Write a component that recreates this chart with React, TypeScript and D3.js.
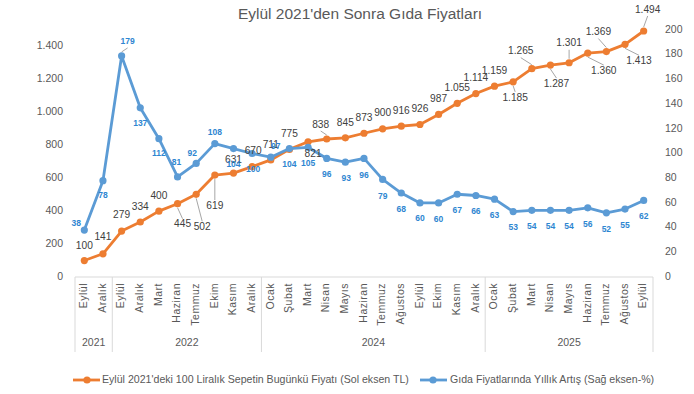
import * as d3 from "d3";

// x categories (month, grouped by year)
const months = [
  "Eylül", "Aralık",
  "Eylül", "Aralık", "Mart", "Haziran", "Temmuz", "Ekim", "Kasım", "Aralık",
  "Ocak", "Şubat", "Mart", "Nisan", "Mayıs", "Haziran", "Temmuz", "Ağustos", "Eylül", "Ekim", "Kasım", "Aralık",
  "Ocak", "Şubat", "Mart", "Nisan", "Mayıs", "Haziran", "Temmuz", "Ağustos", "Eylül",
];
const yearLabels = ["2021", "2022", "2024", "2025"];
const yearSpans = [2, 8, 12, 9];

// series
const basketPrice = [
  100, 141, 279, 334, 400, 445, 502, 619, 631, 670, 711, 775, 821, 838, 845, 873,
  900, 916, 926, 987, 1055, 1114, 1159, 1185, 1265, 1287, 1301, 1360, 1369, 1413, 1494,
];
const yearlyIncrease = [
  38, 78, 179, 137, 112, 81, 92, 108, 104, 100, 97, 104, 105, 96, 93, 96,
  79, 68, 60, 60, 67, 66, 63, 53, 54, 54, 54, 56, 52, 55, 62,
];

const leftTicks = [0, 200, 400, 600, 800, 1000, 1200, 1400];
const rightTicks = [0, 20, 40, 60, 80, 100, 120, 140, 160, 180, 200];

// data label placement (offset from the point, like the hand-moved labels in the source)
const orangeDx = [0, 0, 0, 0, 0, 5, 6, 0, 0, 1, 0, 0, 5, -6, 0, 0, 0, 0, 0, 0, 0, 0, 0, 2, -11, 6, 0, 16, -8, 14, 4];
const orangeDy = [-14, -16, -16, -15, -15, 21, 33, 31, -13, -15, -15, -15, 13, -14, -15, -15, -15, -15, -15, -15, -15, -15, -15, 16, -17, 19, -19, 18, -19, 17, -21];
const orangeLeaders = [5, 6, 7, 13, 23, 24, 25, 26, 27, 28, 29, 30];
const blueDx = [-8, 0, 6, 0, 0, -1, -4, 0, 0, 1, 5, 0, 0, 0, 1, 0, 0, 0, 0, 0, 0, 0, 0, 0, 0, 0, 0, 0, 0, 0, 0];
const blueDy = [-6, 15, -14, 16, 15, -14, -10, -11, 16, 16, -10, 16, 16, 16.5, 17, 17, 17.5, 17, 16, 16.5, 16.5, 16.5, 16.5, 16.5, 16.5, 16.5, 16.5, 16.5, 16.5, 16.5, 16.5];
const blueLeaders = [2];

const ORANGE = "#ED7D31";
const BLUE = "#5B9BD5";
const BLUE_TEXT = "#2E86D1";
const TEXT = "#595959";
const FONT = "'Liberation Sans', Arial, sans-serif";

const trFormat = d3.formatLocale({ decimal: ",", thousands: ".", grouping: [3], currency: ["", ""] }).format(",");

export default function App() {
  const width = 694;
  const height = 394;
  const left = 75;
  const right = 653;
  const top = 30;
  const bottom = 277;

  const idx = d3.range(months.length);
  const x = d3.scaleBand<number>().domain(idx).range([left, right]);
  const cx = (i: number) => (x(i) as number) + x.bandwidth() / 2;
  const yL = d3.scaleLinear().domain([0, 1500]).range([bottom, top]);
  const yR = d3.scaleLinear().domain([0, 200]).range([bottom, top]);

  const lineL = d3.line<number>().x((_, i) => cx(i)).y((d) => yL(d));
  const lineR = d3.line<number>().x((_, i) => cx(i)).y((d) => yR(d));

  // year group boundaries
  const starts = yearSpans.map((_, i) => d3.sum(yearSpans.slice(0, i)));
  const bounds = [...starts, months.length].map((s) => left + s * x.step());

  const leader = (px: number, py: number, lx: number, ly: number, key: string) => {
    const sgn = ly > py ? -1 : 1;
    return (
      <line key={key} x1={lx} y1={ly + sgn * 6} x2={px} y2={py - sgn * 4}
        stroke="#a6a6a6" strokeWidth={1} />
    );
  };

  return (
    <svg width={width} height={height} style={{ position: "fixed", left: 0, top: 0, background: "#fff" }}
      fontFamily={FONT}>
      <text x={360} y={15} textAnchor="middle" dominantBaseline="middle" fontSize={15.5} fill={TEXT}>
        Eylül 2021'den Sonra Gıda Fiyatları
      </text>

      {/* left axis */}
      {leftTicks.map((t) => (
        <text key={"l" + t} x={63} y={yL(t)} textAnchor="end" dominantBaseline="middle" fontSize={10.5} fill={TEXT}>
          {trFormat(t)}
        </text>
      ))}
      {/* right axis */}
      {rightTicks.map((t) => (
        <text key={"r" + t} x={665} y={yR(t)} dominantBaseline="middle" fontSize={10.5} fill={TEXT}>
          {t}
        </text>
      ))}

      {/* category axis */}
      <line x1={left} x2={right} y1={bottom} y2={bottom} stroke="#d9d9d9" />
      {bounds.map((b, i) => (
        <line key={"b" + i} x1={b} x2={b} y1={bottom} y2={352} stroke="#d9d9d9" />
      ))}
      {months.map((m, i) => (
        <text key={"m" + i} transform={`translate(${cx(i)},283) rotate(-90)`} textAnchor="end"
          dominantBaseline="middle" fontSize={10.5} letterSpacing={0.5} fill={TEXT}>
          {m}
        </text>
      ))}
      {yearLabels.map((yl, i) => (
        <text key={"y" + i} x={(bounds[i] + bounds[i + 1]) / 2} y={343} textAnchor="middle"
          dominantBaseline="middle" fontSize={10.5} fill={TEXT}>
          {yl}
        </text>
      ))}

      {/* leader lines */}
      {orangeLeaders.map((i) =>
        leader(cx(i), yL(basketPrice[i]), cx(i) + orangeDx[i], yL(basketPrice[i]) + orangeDy[i], "ol" + i))}
      {blueLeaders.map((i) =>
        leader(cx(i), yR(yearlyIncrease[i]), cx(i) + blueDx[i], yR(yearlyIncrease[i]) + blueDy[i], "bl" + i))}

      {/* series */}
      <path d={lineL(basketPrice) ?? ""} fill="none" stroke={ORANGE} strokeWidth={2.8} strokeLinejoin="round" />
      {basketPrice.map((v, i) => (
        <circle key={"oc" + i} cx={cx(i)} cy={yL(v)} r={3.6} fill={ORANGE} />
      ))}
      <path d={lineR(yearlyIncrease) ?? ""} fill="none" stroke={BLUE} strokeWidth={2.8} strokeLinejoin="round" />
      {yearlyIncrease.map((v, i) => (
        <circle key={"bc" + i} cx={cx(i)} cy={yR(v)} r={3.6} fill={BLUE} />
      ))}

      {/* data labels */}
      {basketPrice.map((v, i) => (
        <text key={"ot" + i} x={cx(i) + orangeDx[i]} y={yL(v) + orangeDy[i]} textAnchor="middle"
          dominantBaseline="middle" fontSize={10.2} fill="#404040">
          {trFormat(v)}
        </text>
      ))}
      {yearlyIncrease.map((v, i) => (
        <text key={"bt" + i} x={cx(i) + blueDx[i]} y={yR(v) + blueDy[i]} textAnchor="middle"
          dominantBaseline="middle" fontSize={8.5} fontWeight="bold" fill={BLUE_TEXT}>
          {v}
        </text>
      ))}

      {/* legend */}
      <line x1={73} x2={100} y1={380} y2={380} stroke={ORANGE} strokeWidth={2.8} />
      <circle cx={87} cy={380} r={3.6} fill={ORANGE} />
      <text x={102} y={380} dominantBaseline="middle" fontSize={10.6} fill={TEXT}>
        Eylül 2021'deki 100 Liralık Sepetin Bugünkü  Fiyatı (Sol eksen TL)
      </text>
      <line x1={420} x2={447} y1={380} y2={380} stroke={BLUE} strokeWidth={2.8} />
      <circle cx={433} cy={380} r={3.6} fill={BLUE} />
      <text x={450} y={380} dominantBaseline="middle" fontSize={10.6} fill={TEXT}>
        Gıda Fiyatlarında Yıllık Artış (Sağ eksen-%)
      </text>
    </svg>
  );
}
